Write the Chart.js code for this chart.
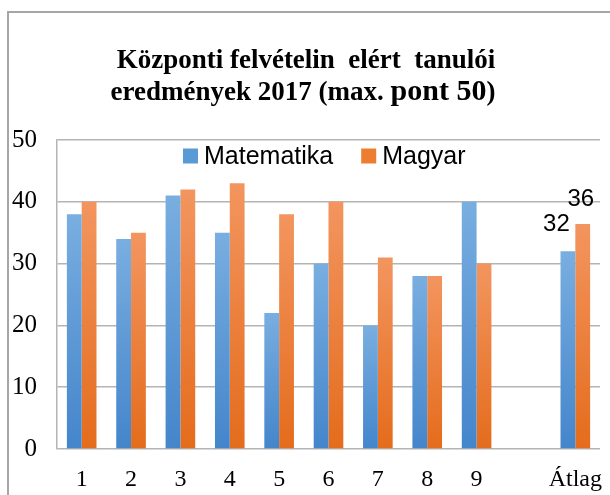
<!DOCTYPE html>
<html>
<head>
<meta charset="utf-8">
<script src="https://cdn.jsdelivr.net/npm/chart.js@4/dist/chart.umd.min.js"></script>
<style>
html,body{margin:0;padding:0;background:#fff;}
#wrap{position:relative;width:610px;height:495px;}
canvas{display:block;}
</style>
</head>
<body>
<div id="wrap"><canvas id="c" width="610" height="495"></canvas></div>
<script>
// ---- data ----
const categories = ['1','2','3','4','5','6','7','8','9','','Átlag'];
const seriesNames = ['Matematika','Magyar'];
const matematika = [38,34,41,35,22,30,20,28,40,null,32];
const magyar = [40,35,42,43,38,40,31,28,30,null,36.4];
const yTicks = [0,10,20,30,40,50];
const titleLine1 = 'Központi felvételin  elért  tanulói';
const titleLine2a = 'eredmények 2017 (max. ';
const titleLine2b = 'pont 50';
const titleLine2c = ')';
const labelledCategory = 'Átlag';

const blueTop = '#79aee0', blueBottom = '#4485cb';
const orangeTop = '#f3955f', orangeBottom = '#e46c1c';

function barGradient(top, bottom) {
  return function(ctx) {
    const chart = ctx.chart;
    const ys = chart.scales.y;
    if (!ys || ctx.parsed == null || ctx.parsed.y == null) return bottom;
    const y0 = ys.getPixelForValue(ctx.parsed.y);
    const y1 = ys.getPixelForValue(0);
    if (!isFinite(y0) || !isFinite(y1) || y0 === y1) return bottom;
    const g = chart.ctx.createLinearGradient(0, y0, 0, y1);
    g.addColorStop(0, top);
    g.addColorStop(1, bottom);
    return g;
  };
}

const decor = {
  id: 'decor',
  beforeDraw(chart) {
    const c = chart.ctx;
    c.save();
    c.strokeStyle = '#a6a6a6';
    c.lineWidth = 2;
    c.beginPath();
    c.moveTo(8, 495); c.lineTo(8, 12); c.lineTo(610, 12);
    c.stroke();
    // title
    c.fillStyle = '#000';
    c.textBaseline = 'alphabetic';
    c.textAlign = 'center';
    c.font = 'bold 27px "Liberation Serif"';
    c.fillText(titleLine1, 306, 68);
    const fA = 'bold 27px "Liberation Serif"', fB = 'bold 30px "Liberation Serif"';
    c.font = fA; const wa = c.measureText(titleLine2a).width; const wc = c.measureText(titleLine2c).width;
    c.font = fB; const wb = c.measureText(titleLine2b).width;
    let x = 303 - (wa + wb + wc) / 2;
    c.textAlign = 'left';
    c.font = fA; c.fillText(titleLine2a, x, 100); x += wa;
    c.font = fB; c.fillText(titleLine2b, x, 100); x += wb;
    c.font = fA; c.fillText(titleLine2c, x, 100);
    c.restore();
  },
  afterDatasetsDraw(chart) {
    const c = chart.ctx;
    c.save();
    // legend
    const items = chart.data.datasets.map((d, i) => ({label: d.label, color: i === 0 ? '#5b9bd5' : '#ed7d31'}));
    c.font = '25px "Liberation Sans"';
    c.textBaseline = 'middle';
    c.textAlign = 'left';
    const box = 15, gap = 6, itemGap = 28;
    let total = 0;
    items.forEach((it, i) => { total += box + gap + c.measureText(it.label).width + (i < items.length - 1 ? itemGap : 0); });
    let x = 183;
    const y = 156;
    items.forEach(it => {
      c.fillStyle = it.color;
      c.fillRect(x, y - box / 2, box, box);
      x += box + gap;
      c.fillStyle = '#000';
      c.fillText(it.label, x, y + 1);
      x += c.measureText(it.label).width + itemGap;
    });
    // data labels for average
    const idx = chart.data.labels.indexOf(labelledCategory);
    c.font = '24px "Liberation Sans"';
    c.textAlign = 'center';
    c.textBaseline = 'alphabetic';
    const offs = [[-11.5, -20], [-2, -18]];
    chart.data.datasets.forEach((d, di) => {
      const el = chart.getDatasetMeta(di).data[idx];
      if (!el) return;
      const v = Math.round(d.data[idx]);
      c.fillText(String(v), el.x + offs[di][0], el.y + offs[di][1]);
    });
    c.restore();
  }
};

new Chart(document.getElementById('c'), {
  type: 'bar',
  data: {
    labels: categories,
    datasets: [
      {label: seriesNames[0], data: matematika, backgroundColor: barGradient(blueTop, blueBottom)},
      {label: seriesNames[1], data: magyar, backgroundColor: barGradient(orangeTop, orangeBottom)}
    ]
  },
  options: {
    responsive: false,
    animation: false,
    devicePixelRatio: 1,
    categoryPercentage: 0.6,
    barPercentage: 1.0,
    layout: {padding: {left: 0, right: 10, top: 140, bottom: 0}},
    plugins: {legend: {display: false}, title: {display: false}, tooltip: {enabled: false}},
    scales: {
      x: {
        grid: {display: false, drawTicks: false},
        border: {display: false},
        ticks: {color: '#000', font: {family: '"Liberation Serif"', size: 24}, padding: 16, maxRotation: 0, autoSkip: false},
        afterFit(s) { s.height = 46; s.paddingLeft = 0; s.paddingRight = 0; }
      },
      y: {
        min: 0, max: 50,
        afterBuildTicks(s) { s.ticks = yTicks.map(v => ({value: v})); },
        grid: {color: '#b4b4b4', lineWidth: 1.5, drawTicks: false},
        border: {display: true, color: '#b4b4b4', width: 1.5},
        ticks: {color: '#000', font: {family: '"Liberation Serif"', size: 25}, padding: 20},
        afterFit(s) { s.width = 57; s.paddingTop = 0; s.paddingBottom = 0; }
      }
    }
  },
  plugins: [decor]
});
</script>
</body>
</html>
